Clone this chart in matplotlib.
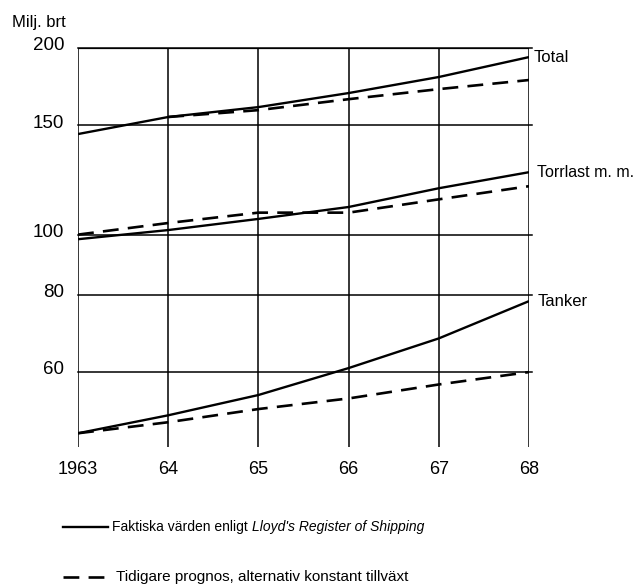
import matplotlib.pyplot as plt
import matplotlib.transforms as mtransforms
from matplotlib.lines import Line2D

plt.rcParams['font.family'] = ['Liberation Sans', 'DejaVu Sans']

# values (milj. brt)
years = [1963, 1964, 1965, 1966, 1967, 1968]
total_actual = [145.3, 154.8, 160.6, 169.2, 179.6, 193.4]
total_prognos = [154.8, 158.8, 165.4, 171.7, 177.6]  # from 1964
dry_actual = [98.3, 101.7, 106.0, 110.8, 118.8, 126.1]
dry_prognos = [100.0, 104.4, 108.5, 108.5, 114.0, 119.7]
tanker_actual = [47.8, 51.1, 55.1, 60.9, 68.0, 78.1]
tanker_prognos = [47.8, 49.8, 52.3, 54.4, 57.3, 60.0]

y_ticks = [60, 80, 100, 150, 200]
x_labels = ['1963', '64', '65', '66', '67', '68']

fig = plt.figure(figsize=(6.37, 5.86), dpi=100)
ax = fig.add_axes([0.1225, 0.237, 0.708, 0.681])
ax.set_yscale('log')
ax.set_xlim(1963, 1968)
ax.set_ylim(45.4, 200)

for s in ax.spines.values():
    s.set_visible(False)

# grid
for v in y_ticks:
    ax.plot([1963, 1968.03], [v, v], color='black', lw=1.1,
            clip_on=False, zorder=1)
ax.plot([1963, 1968], [200, 200], color='black', lw=1.6, zorder=1)
for yr in years:
    ax.axvline(yr, color='black', lw=1.1, zorder=1)

solid = dict(color='black', lw=1.7, zorder=3, solid_capstyle='butt')
dashed = dict(color='black', lw=1.9, zorder=3, dashes=(6, 3.5))

ax.plot(years, total_actual, **solid)
ax.plot(years[1:], total_prognos, **dashed)
ax.plot(years, dry_actual, **solid)
ax.plot(years, dry_prognos, **dashed)
ax.plot(years, tanker_actual, **solid)
ax.plot(years, tanker_prognos, **dashed)

ax.set_yticks(y_ticks)
ax.set_yticklabels([str(v) for v in y_ticks])
ax.yaxis.set_minor_locator(plt.NullLocator())
ax.set_xticks(years)
ax.set_xticklabels(x_labels)
ax.tick_params(axis='y', length=0, pad=10, labelsize=13.5)
ax.tick_params(axis='x', length=0, pad=10, labelsize=13)
shift = mtransforms.ScaledTranslation(0, 1.5 / 72, fig.dpi_scale_trans)
for lab in ax.get_yticklabels():
    lab.set_verticalalignment('center')
    lab.set_transform(lab.get_transform() + shift)

fig.text(0.019, 0.962, 'Milj. brt', fontsize=12, va='center')

# series labels at right
ax.annotate('Total', xy=(1968, total_actual[-1]), xytext=(3, 0),
            textcoords='offset points', va='center', fontsize=12)
ax.annotate('Torrlast m. m.', xy=(1968, dry_actual[-1]), xytext=(6, 0),
            textcoords='offset points', va='center', fontsize=11.5)
ax.annotate('Tanker', xy=(1968, tanker_actual[-1]), xytext=(6, 0),
            textcoords='offset points', va='center', fontsize=12)

# legend below
y1 = 1 - 527 / 586
y2 = 1 - 577 / 586
fig.add_artist(Line2D([63 / 637, 108 / 637], [y1, y1], color='black', lw=1.7))
fig.add_artist(Line2D([63 / 637, 108 / 637], [y2, y2], color='black', lw=1.9,
                      dashes=(6, 3.5)))
t1 = fig.text(112 / 637, y1, 'Faktiska värden enligt ', fontsize=10,
              va='center')
ax.annotate("Lloyd's Register of Shipping", xy=(1, 0.5), xycoords=t1,
            va='center', ha='left', fontsize=10, style='italic',
            annotation_clip=False)
fig.text(116 / 637, y2, 'Tidigare prognos, alternativ konstant tillväxt',
         fontsize=11, va='center')

fig.savefig('out.png', dpi=100)
